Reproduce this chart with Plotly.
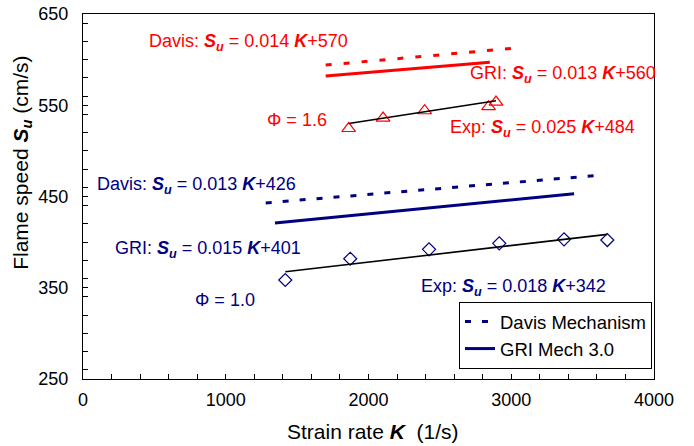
import plotly.graph_objects as go

# ---- data ----
red_davis_x = [1700, 3050]
red_davis_y = [594, 613]
red_gri_x = [1700, 2850]
red_gri_y = [582, 597]
red_exp_x = [1861, 2102, 2393, 2841, 2893]
red_exp_y = [524.5, 536, 544, 548.5, 553.5]
red_fit_x = [1861, 2893]
red_fit_y = [530, 555]

blue_davis_x = [1280, 3600]
blue_davis_y = [443, 473]
blue_gri_x = [1345, 3440]
blue_gri_y = [421, 453]
blue_exp_x = [1417, 1872, 2424, 2916, 3370, 3673]
blue_exp_y = [358.5, 381.8, 392.1, 398.7, 403.1, 402.3]
blue_fit_x = [1417, 3673]
blue_fit_y = [367.5, 408.5]

x_ticks = [0, 1000, 2000, 3000, 4000]
y_ticks = [250, 350, 450, 550, 650]

RED = "#FF0000"
NAVY = "#000080"
FONT = "Liberation Sans, Arial, sans-serif"

fig = go.Figure()

# red (phi = 1.6)
fig.add_trace(go.Scatter(x=red_davis_x, y=red_davis_y, mode="lines",
                         line=dict(color=RED, width=3, dash="6px,12px"), showlegend=False))
fig.add_trace(go.Scatter(x=red_gri_x, y=red_gri_y, mode="lines",
                         line=dict(color=RED, width=3), showlegend=False))
fig.add_trace(go.Scatter(x=red_exp_x, y=red_exp_y, mode="markers",
                         marker=dict(symbol="triangle-up-open", size=12, color=RED,
                                     line=dict(width=1.2, color=RED)), showlegend=False))
fig.add_trace(go.Scatter(x=red_fit_x, y=red_fit_y, mode="lines",
                         line=dict(color="black", width=1.6), showlegend=False))

# blue (phi = 1.0)
fig.add_trace(go.Scatter(x=blue_davis_x, y=blue_davis_y, mode="lines", name="Davis Mechanism",
                         line=dict(color=NAVY, width=3, dash="6px,11px")))
fig.add_trace(go.Scatter(x=blue_gri_x, y=blue_gri_y, mode="lines", name="GRI Mech 3.0",
                         line=dict(color=NAVY, width=3)))
fig.add_trace(go.Scatter(x=blue_exp_x, y=blue_exp_y, mode="markers",
                         marker=dict(symbol="diamond-open", size=10, color=NAVY,
                                     line=dict(width=1.2, color=NAVY)), showlegend=False))
fig.add_trace(go.Scatter(x=blue_fit_x, y=blue_fit_y, mode="lines",
                         line=dict(color="black", width=1.6), showlegend=False))

SU = "<b><i>S</i></b><sub><b><i>u</i></b></sub>"
K = "<b><i>K</i></b>"

notes = [
    ("Davis: " + SU + " = 0.014 " + K + "+570", 450, 619.3, RED),
    ("GRI: " + SU + " = 0.013 " + K + "+560", 2699, 584.2, RED),
    ("\u03a6 = 1.6", 1277, 533.8, RED),
    ("Exp: " + SU + " = 0.025 " + K + "+484", 2559, 525, RED),
    ("Davis: " + SU + " = 0.013 " + K + "+426", 86, 462.6, NAVY),
    ("GRI: " + SU + " = 0.015 " + K + "+401", 212, 391.4, NAVY),
    ("\u03a6 = 1.0", 769, 336.6, NAVY),
    ("Exp: " + SU + " = 0.018 " + K + "+342", 2356, 350.8, NAVY),
]
for txt, ax_, ay_, col in notes:
    fig.add_annotation(x=ax_, y=ay_, xref="x", yref="y", text=txt, showarrow=False,
                       xanchor="left", yanchor="middle",
                       font=dict(family=FONT, size=18, color=col))

# axis titles as annotations (placed like the reference)
fig.add_annotation(x=-0.107, y=0.592, xref="paper", yref="paper",
                   text="Flame speed " + SU + " (cm/s)", textangle=-90, showarrow=False,
                   xanchor="center", yanchor="middle",
                   font=dict(family=FONT, size=21, color="black"))
fig.add_annotation(x=0.508, y=-0.145, xref="paper", yref="paper",
                   text="Strain rate " + K + "  (1/s)", showarrow=False,
                   xanchor="center", yanchor="middle",
                   font=dict(family=FONT, size=21, color="black"))

axis_common = dict(showgrid=False, zeroline=False, showline=True, linecolor="black",
                   linewidth=1, mirror=True, ticks="inside", ticklen=5, tickcolor="black",
                   automargin=False,
                   tickfont=dict(family=FONT, size=18, color="black"))

fig.update_xaxes(range=[0, 4000], tickvals=x_ticks, ticklabelstandoff=4,
                 minor=dict(dtick=200, ticks="inside", ticklen=5, tickcolor="black"),
                 **axis_common)
fig.update_yaxes(range=[250, 650], tickvals=y_ticks, ticklabelstandoff=10,
                 minor=dict(dtick=20, ticks="inside", ticklen=5, tickcolor="black"),
                 **axis_common)

fig.update_layout(
    width=694, height=446,
    margin=dict(l=83, r=40, t=14, b=67, autoexpand=False),
    paper_bgcolor="white", plot_bgcolor="white",
    font=dict(family=FONT, size=18, color="black"),
    legend=dict(x=0.9965, y=0.0274, xanchor="right", yanchor="bottom",
                bgcolor="white", bordercolor="black", borderwidth=1,
                font=dict(family=FONT, size=18.5, color="black"),
                itemwidth=30, tracegroupgap=0),
)

fig.write_html("out.html")
